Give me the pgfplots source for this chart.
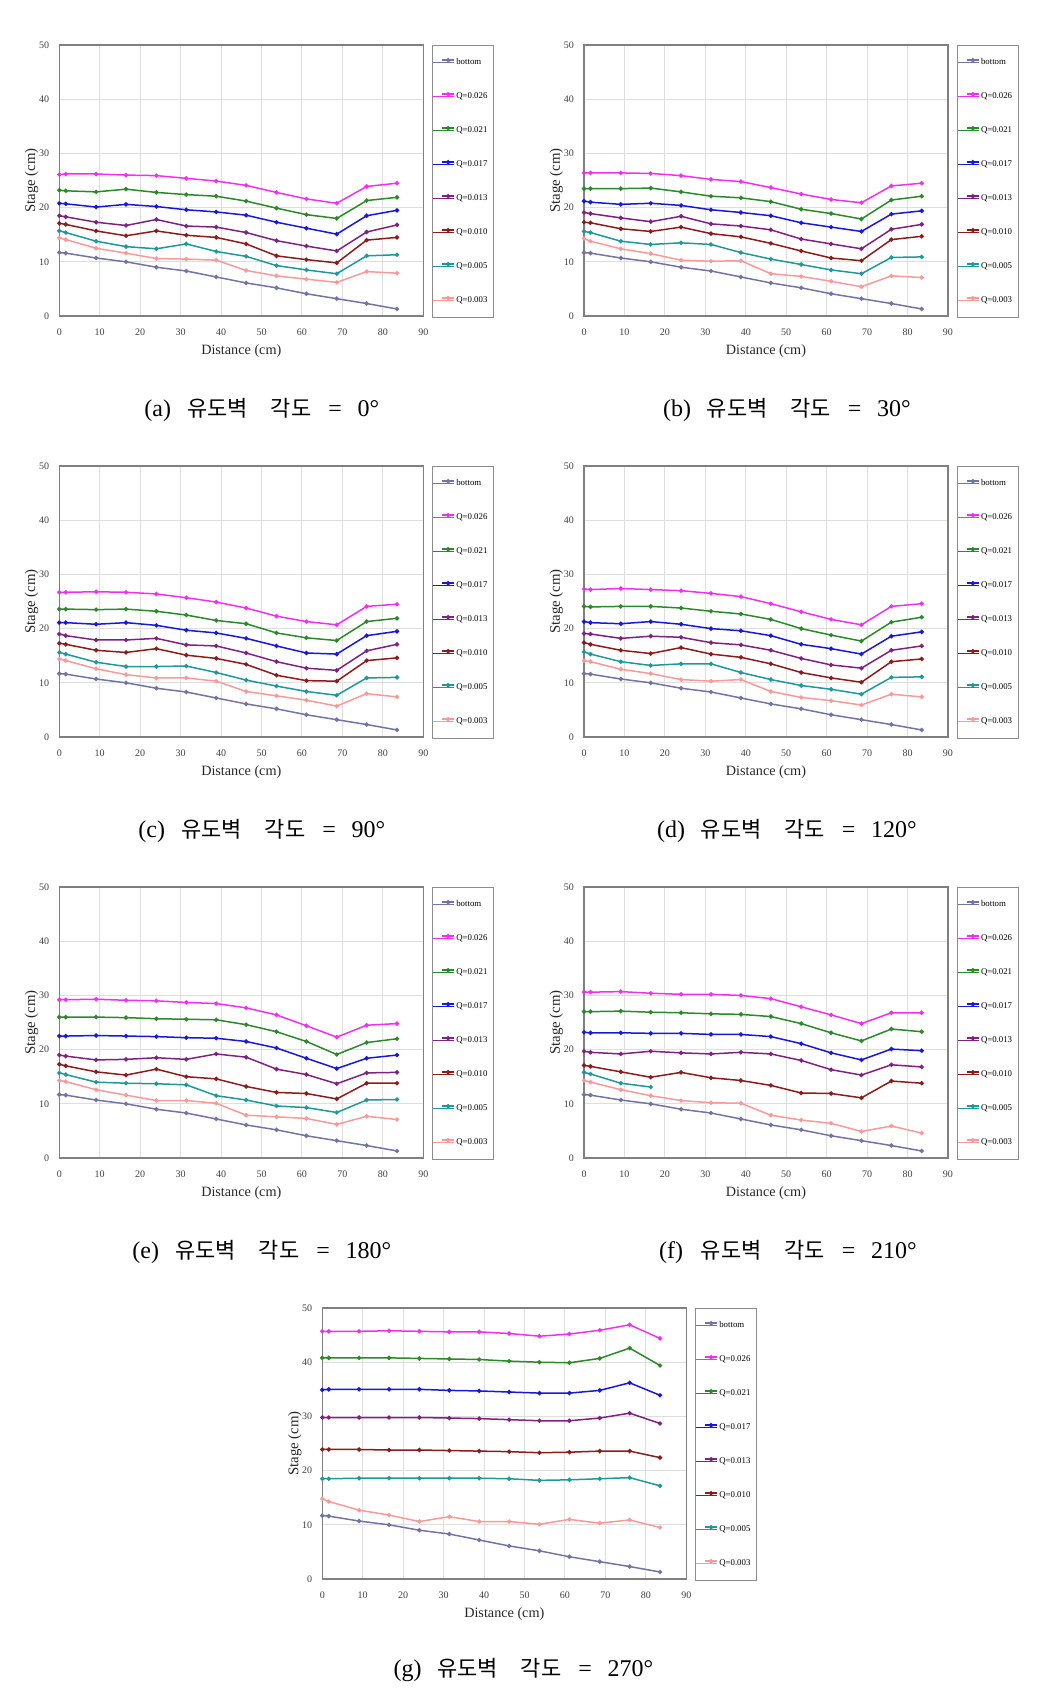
\documentclass[border=0pt]{standalone}
\usepackage{fontspec}
\setmainfont{Liberation Serif}
\newfontfamily\kr{Noto Sans CJK KR}
\usepackage{pgfplots}
\pgfplotsset{compat=1.18}
\usepackage{pgfplotstable}

\definecolor{cb}{HTML}{7474A4}
\definecolor{c026}{HTML}{F030F0}
\definecolor{c021}{HTML}{2A8A2A}
\definecolor{c017}{HTML}{1818D8}
\definecolor{c013}{HTML}{7E2280}
\definecolor{c010}{HTML}{8A1C1C}
\definecolor{c005}{HTML}{1E9898}
\definecolor{c003}{HTML}{F79A9A}

\tikzset{
 sb/.style={color=cb, mark=*, mark size=0.7pt, line width=0.75pt},
 s026/.style={color=c026, mark=*, mark size=0.7pt, line width=0.75pt},
 s021/.style={color=c021, mark=*, mark size=0.7pt, line width=0.75pt},
 s017/.style={color=c017, mark=*, mark size=0.7pt, line width=0.75pt},
 s013/.style={color=c013, mark=*, mark size=0.7pt, line width=0.75pt},
 s010/.style={color=c010, mark=*, mark size=0.7pt, line width=0.75pt},
 s005/.style={color=c005, mark=*, mark size=0.7pt, line width=0.75pt},
 s003/.style={color=c003, mark=*, mark size=0.7pt, line width=0.75pt},
}

\pgfplotsset{
 panel/.style={
  scale only axis, width=182pt, height=135.5pt, anchor=north west,
  xmin=0, xmax=90, ymin=0, ymax=50,
  xtick={0,10,...,90}, ytick={0,10,...,50},
  grid=major, major grid style={draw=black!13, line width=0.5pt},
  axis line style={draw=black!50, line width=0.6pt},
  major tick length=0pt,
  tick label style={font=\fontsize{5}{6}\selectfont, text=black!75},
  /pgf/number format/assume math mode=true,
  xticklabel style={yshift=-3pt},
  yticklabel style={xshift=-1.5pt},
  xlabel={Distance (cm)}, ylabel={Stage (cm)},
  every axis x label/.style={at={(axis description cs:0.5,-0.128)}, anchor=center, font=\fontsize{7.1}{8}\selectfont, text=black!85},
  every axis y label/.style={at={(axis description cs:-0.0758,0.5)}, rotate=90, anchor=center, font=\fontsize{7.4}{8}\selectfont, text=black!85},
  legend style={at={(1.024,1)}, anchor=north west, draw=black!45, line width=0.6pt, fill=white,
   inner xsep=0pt, inner ysep=0pt, row sep=0pt, font=\fontsize{4.4}{5}\selectfont,
   nodes={inner xsep=0.6pt, inner ysep=0pt, minimum height=17pt, text width=18pt, align=left}},
  legend cell align=left,
  legend image code/.code={\path (0pt,0pt) -- (10.5pt,0pt);
   \draw[##1] (4.4pt,1.2pt) -- (10.4pt,1.2pt);
   \draw[##1, only marks, mark size=0.7pt] plot coordinates {(7.4pt,1.2pt)};},
 }
}

\newcommand\allplots[1]{%
 \addplot[sb] table[x=x,y=b]{#1};
 \addplot[s026] table[x=x,y=q026]{#1};
 \addplot[s021] table[x=x,y=q021]{#1};
 \addplot[s017] table[x=x,y=q017]{#1};
 \addplot[s013] table[x=x,y=q013]{#1};
 \addplot[s010] table[x=x,y=q010]{#1};
 \addplot[s005] table[x=x,y=q005]{#1};
 \addplot[s003] table[x=x,y=q003]{#1};
 \legend{bottom,Q=0.026,Q=0.021,Q=0.017,Q=0.013,Q=0.010,Q=0.005,Q=0.003}
}

\newcommand\subcap[2]{\fontsize{12}{14}\selectfont\makebox[19pt][c]{(#1)}\hspace{5pt}\makebox[31pt][c]{\kr\fontsize{11}{13}\selectfont 유도벽}\hspace{10.5pt}\makebox[21.5pt][c]{\kr\fontsize{11}{13}\selectfont 각도}\hspace{8pt}\makebox[6.5pt][c]{=}\hspace{8pt}#2°}

\pgfplotstableread{
x b q026 q021 q017 q013 q010 q005 q003
0 11.7 26.1 23.2 20.8 18.5 17.1 15.7 14.4
1.6 11.6 26.2 23.1 20.7 18.3 16.9 15.4 14.1
9.1 10.7 26.2 22.9 20.1 17.3 15.7 13.8 12.5
16.5 10.0 26.0 23.4 20.6 16.7 14.8 12.8 11.6
24 9.0 25.9 22.8 20.2 17.8 15.7 12.4 10.6
31.4 8.3 25.4 22.4 19.6 16.6 14.9 13.3 10.5
38.8 7.2 24.9 22.1 19.2 16.4 14.5 11.9 10.3
46.2 6.1 24.1 21.2 18.6 15.4 13.3 11.0 8.4
53.7 5.2 22.8 19.9 17.3 13.9 11.1 9.3 7.4
61.1 4.1 21.6 18.7 16.2 12.9 10.4 8.5 6.8
68.6 3.2 20.8 18.0 15.1 12.0 9.8 7.8 6.2
76 2.3 23.9 21.3 18.5 15.5 14.0 11.1 8.2
83.5 1.3 24.5 21.9 19.5 16.8 14.5 11.3 7.9
}\tabA

\pgfplotstableread{
x b q026 q021 q017 q013 q010 q005 q003
0 11.7 26.4 23.5 21.2 19.1 17.3 15.6 14.3
1.6 11.6 26.4 23.5 21.0 18.9 17.2 15.4 13.8
9.1 10.7 26.4 23.5 20.6 18.1 16.1 13.8 12.4
16.5 10.0 26.3 23.6 20.8 17.4 15.6 13.2 11.5
24 9.0 25.9 22.9 20.4 18.4 16.4 13.5 10.3
31.4 8.3 25.2 22.1 19.6 17.0 15.2 13.2 10.1
38.8 7.2 24.8 21.8 19.1 16.6 14.6 11.7 10.2
46.2 6.1 23.7 21.1 18.5 15.9 13.4 10.5 7.8
53.7 5.2 22.5 19.7 17.2 14.2 12.0 9.5 7.3
61.1 4.1 21.5 18.9 16.4 13.3 10.7 8.5 6.4
68.6 3.2 20.9 17.9 15.6 12.4 10.2 7.8 5.4
76 2.3 24.0 21.4 18.8 16.0 14.1 10.8 7.4
83.5 1.3 24.5 22.1 19.4 16.9 14.7 10.9 7.1
}\tabB

\pgfplotstableread{
x b q026 q021 q017 q013 q010 q005 q003
0 11.7 26.7 23.6 21.1 19.0 17.3 15.6 14.4
1.6 11.6 26.7 23.6 21.1 18.7 17.1 15.3 14.1
9.1 10.7 26.8 23.5 20.8 17.9 16.0 13.8 12.6
16.5 10.0 26.7 23.6 21.1 17.9 15.6 13.0 11.5
24 9.0 26.4 23.2 20.6 18.2 16.3 13.0 10.9
31.4 8.3 25.7 22.5 19.7 17.0 15.1 13.1 10.9
38.8 7.2 24.9 21.5 19.2 16.8 14.5 11.9 10.3
46.2 6.1 23.8 20.9 18.2 15.5 13.4 10.5 8.4
53.7 5.2 22.3 19.2 16.8 13.9 11.4 9.4 7.6
61.1 4.1 21.3 18.3 15.5 12.7 10.4 8.4 6.8
68.6 3.2 20.7 17.8 15.3 12.3 10.3 7.7 5.7
76 2.3 24.1 21.3 18.7 15.9 14.1 10.9 8.0
83.5 1.3 24.5 21.9 19.5 17.1 14.6 11.0 7.4
}\tabC

\pgfplotstableread{
x b q026 q021 q017 q013 q010 q005 q003
0 11.7 27.3 24.1 21.3 19.1 17.4 15.7 14.1
1.6 11.6 27.2 24.0 21.1 19.0 17.1 15.3 13.9
9.1 10.7 27.4 24.1 20.9 18.2 16.0 13.9 12.5
16.5 10.0 27.2 24.1 21.3 18.6 15.4 13.2 11.7
24 9.0 27.0 23.8 20.8 18.4 16.5 13.5 10.6
31.4 8.3 26.5 23.2 20.0 17.4 15.3 13.5 10.3
38.8 7.2 25.9 22.7 19.6 17.0 14.7 11.9 10.6
46.2 6.1 24.6 21.7 18.7 16.0 13.5 10.6 8.4
53.7 5.2 23.1 20.0 17.1 14.5 11.9 9.5 7.3
61.1 4.1 21.7 18.8 16.3 13.3 10.9 8.8 6.7
68.6 3.2 20.7 17.7 15.3 12.7 10.1 7.9 5.9
76 2.3 24.1 21.2 18.6 16.0 13.9 11.0 7.9
83.5 1.3 24.6 22.1 19.4 16.8 14.4 11.1 7.4
}\tabD

\pgfplotstableread{
x b q026 q021 q017 q013 q010 q005 q003
0 11.7 29.2 26.0 22.5 19.0 17.3 15.7 14.3
1.6 11.6 29.2 26.0 22.5 18.8 17.0 15.4 14.1
9.1 10.7 29.3 26.0 22.6 18.1 15.9 14.0 12.6
16.5 10.0 29.1 25.9 22.5 18.2 15.3 13.8 11.6
24 9.0 29.0 25.7 22.4 18.5 16.4 13.7 10.6
31.4 8.3 28.7 25.6 22.2 18.2 15.0 13.5 10.6
38.8 7.2 28.5 25.5 22.1 19.2 14.6 11.5 10.1
46.2 6.1 27.7 24.6 21.5 18.6 13.2 10.7 7.9
53.7 5.2 26.4 23.3 20.3 16.4 12.1 9.6 7.6
61.1 4.1 24.4 21.5 18.4 15.4 11.9 9.3 7.3
68.6 3.2 22.3 19.1 16.5 13.7 10.9 8.4 6.2
76 2.3 24.5 21.3 18.4 15.7 13.8 10.7 7.7
83.5 1.3 24.8 22.0 19.0 15.8 13.8 10.8 7.1
}\tabE

\pgfplotstableread{
x b q026 q021 q017 q013 q010 q005 q003
0 11.7 30.6 27.0 23.2 19.7 17.1 15.8 14.3
1.6 11.6 30.6 27.0 23.1 19.5 16.9 15.5 14.0
9.1 10.7 30.7 27.1 23.1 19.2 15.9 13.8 12.6
16.5 10.0 30.4 26.9 23.0 19.7 14.9 13.1 11.5
24 9.0 30.2 26.8 23.0 19.4 15.8 nan 10.6
31.4 8.3 30.2 26.6 22.8 19.2 14.8 nan 10.2
38.8 7.2 30.0 26.5 22.8 19.5 14.3 nan 10.1
46.2 6.1 29.4 26.1 22.4 19.2 13.4 nan 7.9
53.7 5.2 27.9 24.8 21.1 18.0 12.0 nan 7.0
61.1 4.1 26.4 23.1 19.4 16.3 11.9 nan 6.4
68.6 3.2 24.8 21.6 18.1 15.3 11.1 nan 4.9
76 2.3 26.8 23.8 20.1 17.2 14.2 nan 5.9
83.5 1.3 26.8 23.3 19.8 16.8 13.8 nan 4.6
}\tabF

\pgfplotstableread{
x b q026 q021 q017 q013 q010 q005 q003
0 11.7 45.7 40.8 34.9 29.8 23.9 18.5 14.8
1.6 11.6 45.7 40.8 35.0 29.8 23.9 18.5 14.3
9.1 10.7 45.7 40.8 35.0 29.8 23.9 18.6 12.7
16.5 10.0 45.8 40.8 35.0 29.8 23.8 18.6 11.8
24 9.0 45.7 40.7 35.0 29.8 23.8 18.6 10.6
31.4 8.3 45.6 40.6 34.8 29.7 23.7 18.6 11.5
38.8 7.2 45.6 40.5 34.7 29.6 23.6 18.6 10.6
46.2 6.1 45.3 40.2 34.5 29.4 23.5 18.5 10.6
53.7 5.2 44.8 40.0 34.3 29.2 23.3 18.2 10.1
61.1 4.1 45.2 39.9 34.3 29.2 23.4 18.3 11.0
68.6 3.2 45.9 40.7 34.8 29.7 23.6 18.5 10.3
76 2.3 46.9 42.6 36.2 30.6 23.6 18.7 10.9
83.5 1.3 44.4 39.4 33.9 28.7 22.4 17.2 9.5
}\tabG

\begin{document}
\begin{tikzpicture}
\useasboundingbox (0pt,0pt) rectangle (523.5pt,-854pt);
\begin{axis}[panel, at={(29.65pt,-22.5pt)}]\allplots{\tabA}\end{axis}
\begin{axis}[panel, at={(292pt,-22.5pt)}]\allplots{\tabB}\end{axis}
\begin{axis}[panel, at={(29.65pt,-233pt)}]\allplots{\tabC}\end{axis}
\begin{axis}[panel, at={(292pt,-233pt)}]\allplots{\tabD}\end{axis}
\begin{axis}[panel, at={(29.65pt,-443.5pt)}]\allplots{\tabE}\end{axis}
\begin{axis}[panel, at={(292pt,-443.5pt)}]\allplots{\tabF}\end{axis}
\begin{axis}[panel, at={(161.15pt,-654pt)}]\allplots{\tabG}\end{axis}
\node[anchor=center] at (129.5pt,-205pt) {\subcap{a}{0}};
\node[anchor=center] at (392.25pt,-205pt) {\subcap{b}{30}};
\node[anchor=center] at (129.5pt,-415.5pt) {\subcap{c}{90}};
\node[anchor=center] at (392.25pt,-415.5pt) {\subcap{d}{120}};
\node[anchor=center] at (129.5pt,-626pt) {\subcap{e}{180}};
\node[anchor=center] at (392.25pt,-626pt) {\subcap{f}{210}};
\node[anchor=center] at (260.5pt,-835pt) {\subcap{g}{270}};
\end{tikzpicture}
\end{document}
